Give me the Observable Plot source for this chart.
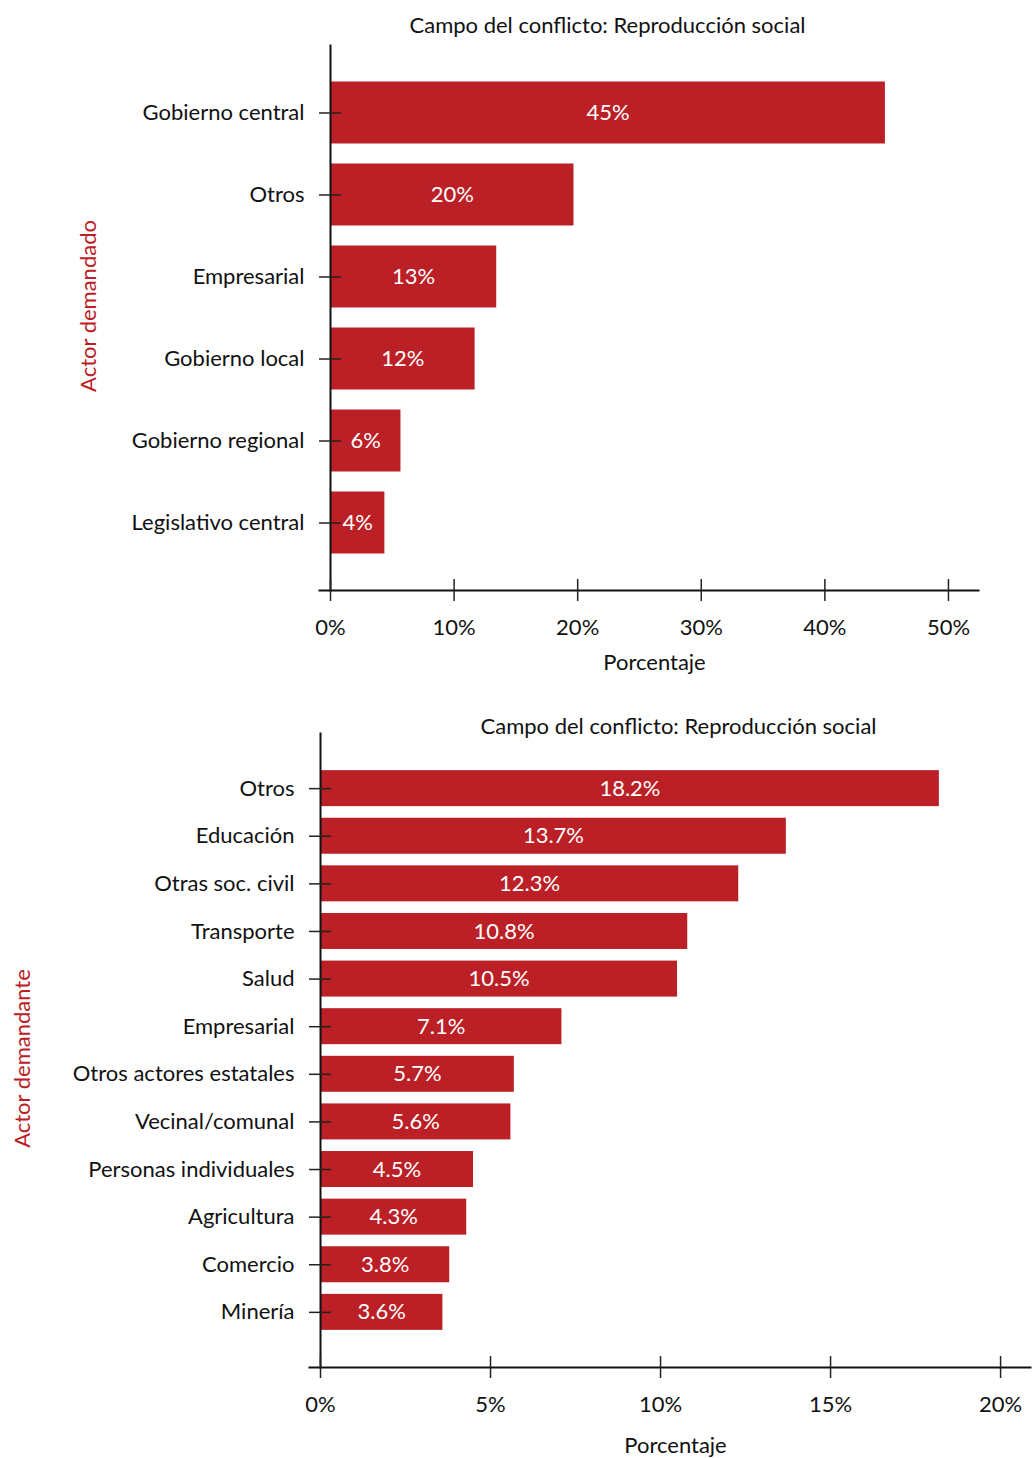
<!DOCTYPE html>
<html>
<head>
<meta charset="utf-8">
<script src="https://cdn.jsdelivr.net/npm/d3@7"></script>
<script src="https://cdn.jsdelivr.net/npm/@observablehq/plot@0.6"></script>
<style>
  html, body { margin: 0; padding: 0; background: #fff; }
  #charts svg { display: block; }
</style>
</head>
<body>
<div id="charts"></div>
<script>
const title = "Campo del conflicto: Reproducción social";

// Chart 1: Actor demandado
const topCats = ["Gobierno central", "Otros", "Empresarial", "Gobierno local", "Gobierno regional", "Legislativo central"];
const topVals = [44.9, 19.7, 13.45, 11.7, 5.7, 4.4];
const topTicks = [0, 10, 20, 30, 40, 50];

// Chart 2: Actor demandante
const botCats = ["Otros", "Educación", "Otras soc. civil", "Transporte", "Salud", "Empresarial", "Otros actores estatales", "Vecinal/comunal", "Personas individuales", "Agricultura", "Comercio", "Minería"];
const botVals = [18.2, 13.7, 12.3, 10.8, 10.5, 7.1, 5.7, 5.6, 4.5, 4.3, 3.8, 3.6];
const botTicks = [0, 5, 10, 15, 20];

const RED = "#BB2026";
const FONT = "Lato, 'Open Sans', sans-serif";

function makeChart({cats, vals, ticks, xmax, height, marginLeft, marginRight, marginTop, marginBottom,
                    fmt, yLabel, titleDx, titleDy, xLabelDy, yLabelDx, yLabelDy, yPad}) {
  const data = cats.map((c, i) => ({cat: c, val: vals[i]}));
  return Plot.plot({
    width: 1032,
    height,
    marginLeft, marginRight, marginTop, marginBottom,
    style: {fontFamily: FONT, fontSize: "22px", color: "#111", background: "#fff"},
    x: {domain: [0, xmax]},
    y: {type: "band", domain: cats, paddingInner: 0.244, paddingOuter: yPad, round: false},
    marks: [
      Plot.barX(data, {x: "val", y: "cat", fill: RED}),
      Plot.text(data, {x: d => d.val / 2, y: "cat", text: d => fmt(d.val) + "%", fill: "white", fontSize: 22}),
      Plot.frame({anchor: "left", stroke: "#111", strokeWidth: 2}),
      Plot.frame({anchor: "bottom", stroke: "#111", strokeWidth: 2, insetLeft: -11}),
      Plot.axisX({ticks, tickSize: 22, dy: -11, tickFormat: () => "", label: null, stroke: "#222", strokeWidth: 1.5}),
      Plot.axisX({ticks, tickSize: 0, tickPadding: 29, tickFormat: d => d + "%", label: null, fontSize: 22, fill: "#111"}),
      Plot.axisY({tickSize: 22, dx: 11, tickFormat: () => "", label: null, stroke: "#222", strokeWidth: 1.5}),
      Plot.axisY({tickSize: 0, tickPadding: 26, label: null, fontSize: 22, fill: "#111"}),
      Plot.text([title], {frameAnchor: "top", lineAnchor: "middle", dx: titleDx, dy: titleDy, fontSize: 22, fill: "#111"}),
      Plot.text(["Porcentaje"], {frameAnchor: "bottom", lineAnchor: "middle", dy: xLabelDy, fontSize: 22, fill: "#111"}),
      Plot.text([yLabel], {frameAnchor: "left", textAnchor: "middle", lineAnchor: "middle", dx: yLabelDx, dy: yLabelDy, rotate: -90, fontSize: 22, fill: RED})
    ]
  });
}

const c1 = makeChart({
  cats: topCats, vals: topVals, ticks: topTicks, xmax: 52.43,
  height: 690, marginLeft: 330, marginRight: 54, marginTop: 45, marginBottom: 100,
  fmt: d3.format(".0f"), yLabel: "Actor demandado",
  titleDx: -47, titleDy: -20, xLabelDy: 72, yLabelDx: -242, yLabelDy: -12, yPad: 0.445
});
const c2 = makeChart({
  cats: botCats, vals: botVals, ticks: botTicks, xmax: 20.88,
  height: 768, marginLeft: 320, marginRight: 2, marginTop: 43, marginBottom: 91,
  fmt: d3.format(".1f"), yLabel: "Actor demandante",
  titleDx: 3, titleDy: -7, xLabelDy: 78, yLabelDx: -298, yLabelDy: 8, yPad: 0.78
});
document.getElementById("charts").append(c1, c2);
</script>
</body>
</html>
